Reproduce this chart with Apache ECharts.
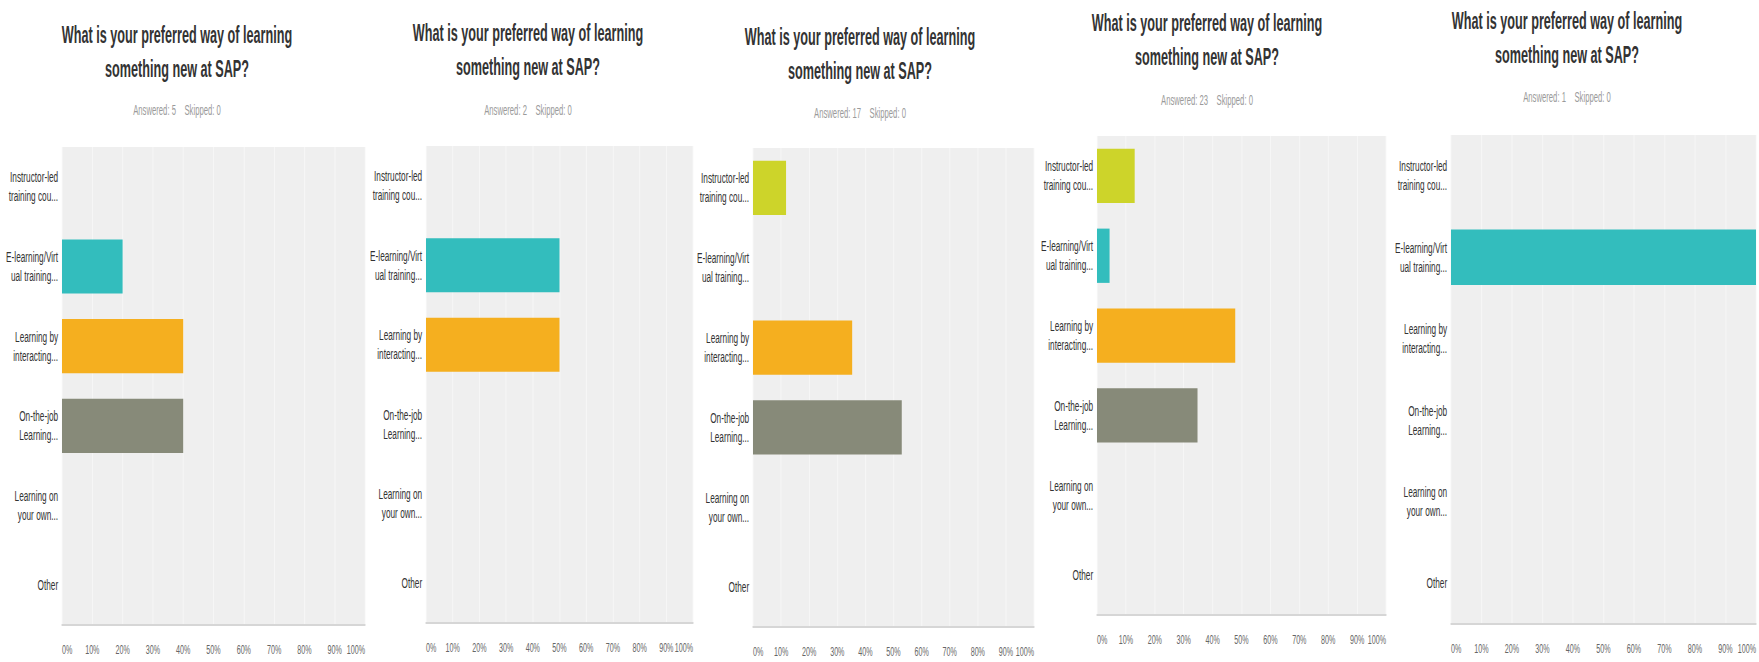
<!DOCTYPE html>
<html>
<head>
<meta charset="utf-8">
<script src="https://cdn.jsdelivr.net/npm/echarts@6/dist/echarts.min.js"></script>
<style>
html, body { margin: 0; padding: 0; overflow: hidden; background: #fff; width: 1759px; height: 662px; }
#chart { position: absolute; left: 0; top: 0; height: 662px; transform-origin: 0 0; }
</style>
</head>
<body>
<div id="chart"></div>
<script>
// ---- data ----
const categories = [
  'Instructor-led\ntraining cou...',
  'E-learning/Virt\nual training...',
  'Learning by\ninteracting...',
  'On-the-job\nLearning...',
  'Learning on\nyour own...',
  'Other'
];
const questionTitle = 'What is your preferred way of learning\nsomething new at SAP?';
const answered = [5, 2, 17, 23, 1];
const skipped = [0, 0, 0, 0, 0];
const panel1 = [0, 20, 40, 40, 0, 0];
const panel2 = [0, 50, 50, 0, 0, 0];
const panel3 = [11.76, 0, 35.29, 52.94, 0, 0];
const panel4 = [13.04, 4.35, 47.83, 34.78, 0, 0];
const panel5 = [0, 100, 0, 0, 0, 0];
const panels = [panel1, panel2, panel3, panel4, panel5];
const xTicks = [0, 10, 20, 30, 40, 50, 60, 70, 80, 90, 100];
const categoryColors = ['#CDD42A', '#33BDBD', '#F5AF1F', '#878A79', '#6A9AC9', '#D07E5B'];

// ---- layout (screen pixels) ----
const S = 0.55; // horizontal condensation of the reference
const W = 1759, H = 662;
const grids = [
  { l: 62,   r: 365,  t: 147, b: 625 },
  { l: 426,  r: 693,  t: 146, b: 623 },
  { l: 753,  r: 1034, t: 148, b: 627 },
  { l: 1097, r: 1386, t: 136, b: 615 },
  { l: 1451, r: 1756, t: 135, b: 624 }
];
const titleCx = [177, 528, 860, 1207, 1567];
const titleTop = [18, 16, 20, 6, 4];
const subCy = [110, 110, 113, 100, 97];
const sx = px => px / S;
const FONT = '"Liberation Sans", Arial, sans-serif';

const cw = Math.round(W / S);
const el = document.getElementById('chart');
el.style.width = cw + 'px';
el.style.transform = 'scaleX(' + S + ')';

const chart = echarts.init(el, null, { renderer: 'svg', width: cw, height: H });

const option = {
  animation: false,
  backgroundColor: '#ffffff',
  title: [],
  grid: [],
  xAxis: [],
  yAxis: [],
  series: []
};

panels.forEach((vals, i) => {
  const g = grids[i];
  option.title.push({
    text: questionTitle,
    left: sx(titleCx[i]),
    top: titleTop[i],
    textAlign: 'center',
    padding: 0,
    textStyle: { fontSize: 23, fontWeight: 'bold', lineHeight: 34, color: '#333333', fontFamily: FONT }
  });
  option.title.push({
    text: 'Answered: ' + answered[i] + '    Skipped: ' + skipped[i],
    left: sx(titleCx[i]),
    top: subCy[i] - 7,
    textAlign: 'center',
    padding: 0,
    textStyle: { fontSize: 14, fontWeight: 'normal', lineHeight: 14, color: '#9a9a9a', fontFamily: FONT }
  });
  option.grid.push({
    left: sx(g.l),
    width: sx(g.r - g.l),
    top: g.t,
    height: g.b - g.t,
    show: true,
    backgroundColor: '#efefef',
    borderWidth: 0,
    containLabel: false
  });
  option.xAxis.push({
    type: 'value',
    gridIndex: i,
    min: xTicks[0],
    max: xTicks[xTicks.length - 1],
    interval: xTicks[1] - xTicks[0],
    axisLine: { show: true, onZero: false, lineStyle: { color: '#d6d6d6', width: 2 } },
    axisTick: { show: false },
    splitLine: { show: true, lineStyle: { color: '#f8f8f8', width: 1.5 } },
    axisLabel: {
      formatter: '{value}%',
      color: '#666666',
      fontSize: 13,
      fontFamily: FONT,
      margin: 18,
      showMinLabel: true,
      showMaxLabel: true,
      alignMinLabel: 'left',
      alignMaxLabel: 'right',
      hideOverlap: false
    }
  });
  option.yAxis.push({
    type: 'category',
    gridIndex: i,
    inverse: true,
    data: categories,
    axisLine: { show: false },
    axisTick: { show: false },
    splitLine: { show: false },
    axisLabel: {
      color: '#333333',
      fontSize: 15,
      lineHeight: 19,
      fontFamily: FONT,
      margin: 7,
      align: 'right',
      interval: 0
    }
  });
  option.series.push({
    type: 'bar',
    xAxisIndex: i,
    yAxisIndex: i,
    barCategoryGap: '32%',
    data: vals.map((v, k) => ({ value: v, itemStyle: { color: categoryColors[k] } })),
    itemStyle: { borderWidth: 0 },
    silent: true
  });
});

chart.setOption(option);
</script>
</body>
</html>
